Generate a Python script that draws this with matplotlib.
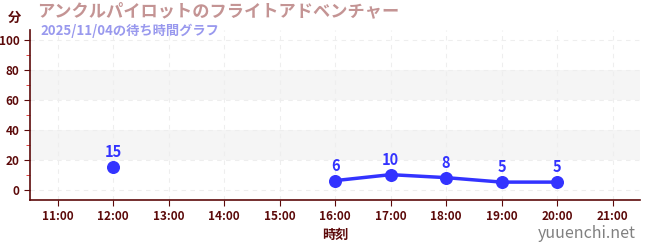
import numpy as np
import matplotlib.pyplot as plt

plt.rcParams['font.family'] = ['Noto Sans CJK JP', 'DejaVu Sans']

# データ
hours = [12, 16, 17, 18, 19, 20]
waits = [15, 6, 10, 8, 5, 5]
xticks = list(range(11, 22))
xlabels = [f'{h}:00' for h in xticks]
yticks = [0, 20, 40, 60, 80, 100]

title = 'アンクルパイロットのフライトアドベンチャー'
subtitle = '2025/11/04の待ち時間グラフ'

dark = '#5c0a0a'
blue = '#3333ff'

fig = plt.figure(figsize=(6.5, 2.5), dpi=100)
ax = fig.add_axes([0.046, 0.2, 0.939, 0.68])

# 帯
for lo, hi in [(20, 40), (60, 80)]:
    ax.axhspan(lo, hi, color='#f5f5f5', zorder=0, lw=0)

# 12時は単独点、16時以降は線でつなぐ
ax.plot(hours[1:], waits[1:], color=blue, lw=2.5, zorder=3)
ax.scatter(hours, waits, s=70, color=blue, zorder=4)
for h, w in zip(hours, waits):
    ax.annotate(str(w), (h, w), xytext=(0, 5), textcoords='offset points',
                ha='center', va='bottom', color=blue, fontsize=10.5, fontweight='bold')

ax.set_xlim(10.5, 21.5)
ax.set_ylim(-7, 107)
ax.set_xticks(xticks)
ax.set_xticklabels(xlabels)
ax.set_yticks(yticks)
ax.set_yticks([10, 30, 50, 70, 90], minor=True)
ax.tick_params(axis='both', colors=dark, labelsize=8.5, length=4)
ax.tick_params(axis='y', which='minor', colors='#dd2222', length=3)
for lab in ax.get_xticklabels() + ax.get_yticklabels():
    lab.set_fontweight('bold')
    lab.set_color(dark)

ax.grid(True, ls=(0, (4, 4)), color='#eeeeee', lw=0.8)
ax.set_axisbelow(True)
for s in ['top', 'right']:
    ax.spines[s].set_visible(False)
for s in ['left', 'bottom']:
    ax.spines[s].set_color(dark)
    ax.spines[s].set_linewidth(1.2)

ax.set_xlabel('時刻', color=dark, fontsize=9.5, fontweight='bold', labelpad=3)

fig.text(0.012, 0.93, '分', color=dark, fontsize=9.5, fontweight='bold', va='center')
fig.text(0.057, 0.955, title, color='#c49494', fontsize=12.4, fontweight='bold', va='center')
fig.text(0.062, 0.875, subtitle, color='#9999ee', fontsize=9.5, fontweight='bold', va='center')
fig.text(0.978, 0.068, 'yuuenchi.net', color='#808080', fontsize=11.5, ha='right', va='center')

plt.savefig('out.png', dpi=100)
